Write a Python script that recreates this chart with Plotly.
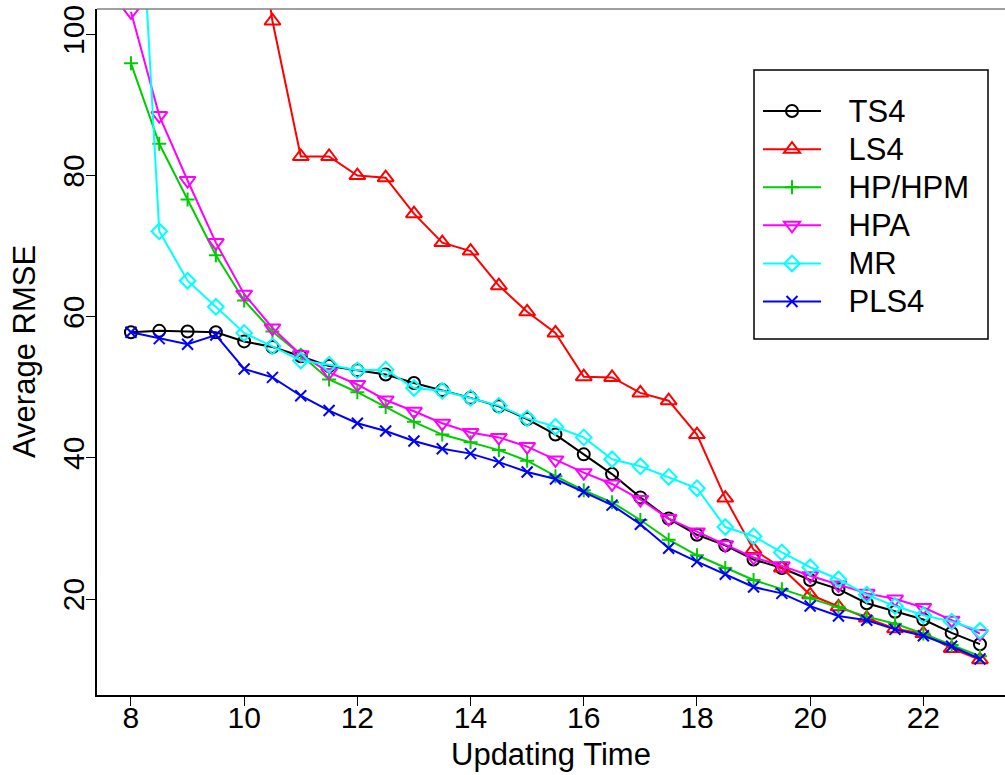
import plotly.graph_objects as go

updating_time = [8, 8.5, 9, 9.5, 10, 10.5, 11, 11.5, 12, 12.5, 13, 13.5, 14, 14.5, 15, 15.5,
                 16, 16.5, 17, 17.5, 18, 18.5, 19, 19.5, 20, 20.5, 21, 21.5, 22, 22.5, 23]

ts4 = [57.8, 58.0, 57.9, 57.8, 56.5, 55.7, 54.4, 53.0, 52.4, 51.8, 50.6, 49.6, 48.5, 47.3, 45.5, 43.3,
       40.5, 37.7, 34.4, 31.4, 29.1, 27.6, 25.6, 24.4, 22.7, 21.4, 19.4, 18.2, 17.1, 15.2, 13.6]
ls4 = [None, None, None, None, 128.0, 101.9, 82.7, 82.7, 80.0, 79.7, 74.6, 70.5, 69.3, 64.4, 60.7, 57.7,
       51.5, 51.4, 49.2, 48.1, 43.3, 34.3, 27.0, 24.4, 20.6, 18.9, 17.3, 15.8, 15.1, 13.0, 11.4]
hp_hpm = [95.9, 84.5, 76.6, 68.7, 62.3, 57.9, 54.6, 51.1, 49.3, 47.2, 45.1, 43.3, 42.2, 41.1, 39.6, 37.4,
          35.4, 33.7, 31.2, 28.4, 26.2, 24.4, 22.7, 21.4, 20.1, 18.9, 17.5, 16.5, 15.1, 13.5, 11.9]
hpa = [103.2, 88.5, 79.3, 70.5, 63.2, 58.4, 54.6, 52.1, 50.4, 48.2, 46.6, 44.9, 43.6, 42.9, 41.6, 39.7,
       37.9, 36.3, 34.1, 31.4, 29.5, 27.7, 25.9, 24.7, 23.3, 22.0, 20.8, 20.0, 18.8, 17.0, 15.1]
mr = [145.0, 72.1, 65.1, 61.4, 57.7, 55.8, 53.8, 53.2, 52.4, 52.5, 49.9, 49.5, 48.5, 47.4, 45.6, 44.4,
      42.9, 39.8, 38.8, 37.3, 35.7, 30.2, 28.9, 26.6, 24.5, 22.8, 20.6, 19.0, 17.7, 16.8, 15.5]
pls4 = [57.8, 56.9, 56.1, 57.4, 52.6, 51.4, 48.8, 46.7, 44.9, 43.8, 42.4, 41.3, 40.6, 39.4, 38.0, 37.0,
        35.2, 33.3, 30.6, 27.2, 25.3, 23.5, 21.7, 20.8, 19.0, 17.6, 17.0, 15.7, 14.8, 13.3, 11.5]

x_ticks = [8, 10, 12, 14, 16, 18, 20, 22]
y_ticks = [20, 40, 60, 80, 100]

series = [
    ("TS4", ts4, "#000000", "circle-open", 12),
    ("LS4", ls4, "#FF0000", "triangle-up-open", 14),
    ("HP/HPM", hp_hpm, "#00CD00", "cross-thin-open", 10),
    ("HPA", hpa, "#FF00FF", "triangle-down-open", 14),
    ("MR", mr, "#00FFFF", "diamond-open", 12),
    ("PLS4", pls4, "#0000FF", "x-thin-open", 11),
]

FONT = "Liberation Sans, Arial, sans-serif"
PAD = "\u00a0\u00a0\u00a0"

fig = go.Figure()
for name, vals, color, sym, size in series:
    fig.add_trace(go.Scatter(
        x=updating_time, y=vals,
        name=PAD + "<span style='font-size:31px'>" + name + "</span>",
        mode="lines+markers",
        line=dict(color=color, width=2),
        marker=dict(symbol=sym, size=size, color=color,
                    line=dict(color=color, width=2)),
        connectgaps=False,
    ))

L, T, B = 97, 9, 80
W, H = 1005, 775
pw = W - L
ph = H - T - B

def px_x(p):
    return (p - L) / pw

def px_y(p):
    return (H - B - p) / ph

fig.update_layout(
    width=W, height=H,
    margin=dict(l=L, r=0, t=T, b=B, pad=0),
    plot_bgcolor="white", paper_bgcolor="white",
    font=dict(family=FONT, color="black", size=30),
    showlegend=True,
    legend=dict(
        x=px_x(758), y=px_y(87), xanchor="left", yanchor="top",
        font=dict(family=FONT, size=27, color="black"),
        bgcolor="rgba(0,0,0,0)", borderwidth=0,
        itemwidth=58, tracegroupgap=0,
    ),
    xaxis=dict(
        range=[7.4, 7.4 + pw / 56.6], showgrid=False, zeroline=False,
        showline=True, linecolor="black", linewidth=1.5,
        tickmode="array", tickvals=x_ticks, ticktext=[str(v) for v in x_ticks],
        ticks="outside", ticklen=9, tickwidth=1, tickcolor="black",
        ticklabelstandoff=-14,
        tickfont=dict(family=FONT, size=30, color="black"),
    ),
    yaxis=dict(
        range=[6.4, 103.6], showgrid=False, zeroline=False,
        showline=True, linecolor="black", linewidth=1.5,
        tickmode="array", tickvals=y_ticks, ticktext=[str(v) for v in y_ticks],
        ticks="outside", ticklen=9, tickwidth=1, tickcolor="black",
        tickangle=-90, ticklabelstandoff=-10,
        tickfont=dict(family=FONT, size=30, color="black"),
    ),
    shapes=[
        dict(type="line", xref="paper", yref="paper", x0=0, x1=1, y0=1, y1=1,
             line=dict(color="#808080", width=1.5), layer="above"),
        dict(type="rect", xref="paper", yref="paper",
             x0=px_x(754), x1=px_x(988), y0=px_y(339), y1=px_y(70),
             line=dict(color="black", width=1.5), fillcolor="white", layer="above"),
    ],
    annotations=[
        dict(text="Updating Time", xref="paper", yref="paper", x=0.5, y=px_y(754),
             xanchor="center", yanchor="middle", showarrow=False,
             font=dict(family=FONT, size=31, color="black")),
        dict(text="Average RMSE", xref="paper", yref="paper", x=px_x(24), y=0.5,
             xanchor="center", yanchor="middle", showarrow=False, textangle=-90,
             font=dict(family=FONT, size=31, color="black")),
    ],
)

fig.write_html(
    "out.html",
    config={"displayModeBar": False},
    post_script="document.body.style.margin='0px';document.body.style.overflow='hidden';",
)
